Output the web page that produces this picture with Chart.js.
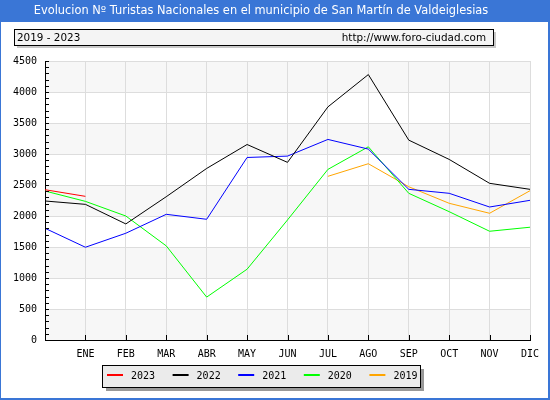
<!DOCTYPE html>
<html>
<head>
<meta charset="utf-8">
<script src="https://cdn.jsdelivr.net/npm/chart.js@4"></script>
<style>
  body { margin: 0; background: #fff; }
  #wrap { width: 550px; height: 400px; }
</style>
</head>
<body>
<div id="wrap"><canvas id="turistas" width="550" height="400"></canvas></div>
<script>
// datos
const titulo = 'Evolucion Nº Turistas Nacionales en el municipio de San Martín de Valdeiglesias';
const periodo = '2019 - 2023';
const web = 'http://www.foro-ciudad.com';
const meses = ['', 'ENE', 'FEB', 'MAR', 'ABR', 'MAY', 'JUN', 'JUL', 'AGO', 'SEP', 'OCT', 'NOV', 'DIC'];
const anios = ['2023', '2022', '2021', '2020', '2019'];
const colores = ['#ff0000', '#000000', '#0000ff', '#00ff00', '#ffa500'];
const v2023 = [2424, 2317, null, null, null, null, null, null, null, null, null, null, null];
const v2022 = [2242, 2188, 1872, 2311, 2767, 3153, 2865, 3760, 4281, 3224, 2913, 2527, 2430];
const v2021 = [1802, 1496, 1722, 2027, 1947, 2944, 2966, 3235, 3079, 2430, 2366, 2145, 2253];
const v2020 = [2403, 2236, 2000, 1518, 692, 1142, 1936, 2752, 3116, 2366, 2070, 1754, 1819];
const v2019 = [null, null, null, null, null, null, null, 2640, 2843, 2472, 2205, 2044, 2408];
const series = [v2023, v2022, v2021, v2020, v2019];

const MONO = '"DejaVu Sans Mono", monospace';
const SANS = '"DejaVu Sans", Verdana, sans-serif';

// fondo, bandas alternas
const fondoPlugin = {
    id: 'fondo',
    beforeDraw(chart) {
        const ctx = chart.ctx;
        const a = chart.chartArea;
        const y = chart.scales.y;
        ctx.save();
        ctx.fillStyle = '#ffffff';
        ctx.fillRect(0, 0, chart.width, chart.height);
        ctx.fillStyle = '#f7f7f7';
        for (let v = 0; v < 4500; v += 1000) {
            const top = y.getPixelForValue(v + 500);
            const bot = y.getPixelForValue(v);
            ctx.fillRect(a.left, top, a.right - a.left, bot - top);
        }
        ctx.restore();
    }
};

// marco, titulo, ticks menores y leyenda
const decoPlugin = {
    id: 'deco',
    afterDraw(chart) {
        const ctx = chart.ctx;
        const a = chart.chartArea;
        const x = chart.scales.x;
        const y = chart.scales.y;
        ctx.save();

        // ticks hacia dentro
        ctx.strokeStyle = '#000';
        ctx.lineWidth = 1;
        ctx.beginPath();
        for (let v = 0; v <= 4500; v += 100) {
            const py = Math.round(y.getPixelForValue(v)) + 0.5;
            ctx.moveTo(a.left, py);
            ctx.lineTo(a.left + 4, py);
        }
        for (let i = 0; i < meses.length; i++) {
            const px = Math.round(x.getPixelForValue(i)) + 0.5;
            ctx.moveTo(px, a.bottom);
            ctx.lineTo(px, a.bottom - 5);
        }
        ctx.stroke();

        // barra de titulo
        ctx.fillStyle = '#3a76d6';
        ctx.fillRect(0, 0, chart.width, 22);
        ctx.fillStyle = '#ffffff';
        ctx.font = '11.4px ' + SANS;
        ctx.textAlign = 'center';
        ctx.textBaseline = 'middle';
        ctx.fillText(titulo, 261, 11);

        // caja periodo
        ctx.fillStyle = '#c8c8c8';
        ctx.fillRect(17, 32, 479, 16);
        ctx.fillStyle = '#f4f4f4';
        ctx.fillRect(14, 29, 479, 16);
        ctx.strokeStyle = '#000';
        ctx.strokeRect(14.5, 29.5, 479, 16);
        ctx.fillStyle = '#000';
        ctx.font = '10.4px ' + SANS;
        ctx.textAlign = 'left';
        ctx.fillText(periodo, 17, 38);
        ctx.textAlign = 'right';
        ctx.fillText(web, 486, 38);

        // leyenda
        ctx.fillStyle = '#999999';
        ctx.fillRect(106, 369, 318, 22);
        ctx.fillStyle = '#ebebeb';
        ctx.fillRect(102, 365, 318, 22);
        ctx.strokeStyle = '#000';
        ctx.strokeRect(102.5, 365.5, 318, 22);
        ctx.font = '10px ' + MONO;
        ctx.textAlign = 'left';
        chart.data.datasets.forEach(function(ds, i) {
            const lx = 107 + i * 65.6;
            ctx.strokeStyle = ds.borderColor;
            ctx.lineWidth = 2;
            ctx.beginPath();
            ctx.moveTo(lx, 375);
            ctx.lineTo(lx + 16, 375);
            ctx.stroke();
            ctx.fillStyle = '#000';
            ctx.fillText(ds.label, lx + 24, 376);
        });

        // marco azul
        ctx.fillStyle = '#3a76d6';
        ctx.fillRect(0, 0, 1, chart.height);
        ctx.fillRect(chart.width - 2, 0, 2, chart.height);
        ctx.fillRect(0, chart.height - 2, chart.width, 2);
        ctx.restore();
    }
};

document.addEventListener("DOMContentLoaded", function() {
    const datasets = anios.map(function(a, i) {
        return {
            label: a,
            data: series[i],
            borderColor: colores[i],
            backgroundColor: colores[i],
            borderWidth: 1,
            pointRadius: 0,
            tension: 0,
            fill: false,
            spanGaps: false
        };
    });

    const ctx = document.getElementById('turistas').getContext('2d');
    new Chart(ctx, {
        type: 'line',
        data: { labels: meses, datasets: datasets },
        options: {
            responsive: false,
            animation: false,
            devicePixelRatio: 1,
            layout: { padding: { top: 61, right: 20, left: 0, bottom: 0 } },
            plugins: { legend: { display: false }, tooltip: { enabled: false } },
            scales: {
                x: {
                    offset: false,
                    grid: { color: '#dddddd', drawTicks: false },
                    border: { color: '#000', width: 1 },
                    ticks: {
                        autoSkip: false, maxRotation: 0, padding: 8,
                        color: '#000', font: { family: MONO, size: 10 }
                    },
                    afterFit: function(s) { s.height = 60; }
                },
                y: {
                    min: 0, max: 4500,
                    grid: { color: '#dddddd', drawTicks: false },
                    border: { color: '#000', width: 1 },
                    ticks: {
                        stepSize: 500, padding: 8,
                        color: '#000', font: { family: MONO, size: 10 },
                        callback: function(v) { return String(v); }
                    },
                    afterFit: function(s) { s.width = 45; }
                }
            }
        },
        plugins: [fondoPlugin, decoPlugin]
    });
});
</script>
</body>
</html>
